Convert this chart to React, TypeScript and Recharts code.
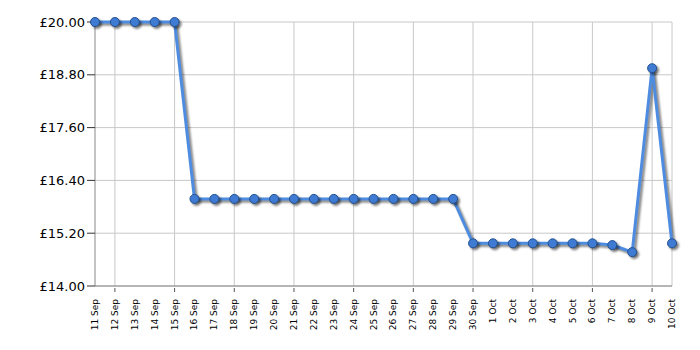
import React from 'react';
import { LineChart, Line, XAxis, YAxis, CartesianGrid } from 'recharts';

const dates = [
  '11 Sep', '12 Sep', '13 Sep', '14 Sep', '15 Sep', '16 Sep', '17 Sep', '18 Sep', '19 Sep', '20 Sep',
  '21 Sep', '22 Sep', '23 Sep', '24 Sep', '25 Sep', '26 Sep', '27 Sep', '28 Sep', '29 Sep', '30 Sep',
  '1 Oct', '2 Oct', '3 Oct', '4 Oct', '5 Oct', '6 Oct', '7 Oct', '8 Oct', '9 Oct', '10 Oct',
];

const prices = [
  20.0, 20.0, 20.0, 20.0, 20.0, 15.98, 15.98, 15.98, 15.98, 15.98,
  15.98, 15.98, 15.98, 15.98, 15.98, 15.98, 15.98, 15.98, 15.98, 14.97,
  14.97, 14.97, 14.97, 14.97, 14.97, 14.97, 14.93, 14.77, 18.95, 14.97,
];

const priceTicks = [14, 15.2, 16.4, 17.6, 18.8, 20];

const data = dates.map((d, i) => ({ date: d, price: prices[i] }));

const DateTick = (props: any) => {
  const { x, y, payload, index } = props;
  return (
    <g transform={`translate(${x},${y})`}>
      {index % 3 === 1 && <line x1={0} y1={0} x2={0} y2={4} stroke="#555" />}
      <text
        transform="rotate(-90)"
        x={-11}
        y={3}
        textAnchor="end"
        fontSize={9}
        fontFamily="DejaVu Sans"
        fill="#000"
      >
        {payload.value}
      </text>
    </g>
  );
};

const PriceDot = (props: any) => {
  const { cx, cy } = props;
  return <circle cx={cx} cy={cy} r={4.5} fill="#3f7bd3" stroke="#23508f" strokeWidth={1} />;
};

export default function App() {
  return (
    <div style={{ margin: '-8px 0 0 -8px' }}>
      <style>{`.recharts-line-curve, .recharts-line-dots { filter: drop-shadow(2px 2px 1px rgba(0,0,0,0.5)); }`}</style>
      <LineChart
        width={700}
        height={350}
        data={data}
        margin={{ top: 22, right: 28, bottom: 14, left: 0 }}
      >
        <CartesianGrid
          stroke="#c8c8c8"
          verticalCoordinatesGenerator={({ offset }: any) => {
            const step = offset.width / (dates.length - 1);
            const xs: number[] = [];
            dates.forEach((_, i) => {
              if (i % 3 === 1 || i === dates.length - 1) xs.push(offset.left + i * step);
            });
            return xs;
          }}
        />
        <XAxis
          dataKey="date"
          interval={0}
          height={50}
          stroke="#888"
          tickLine={false}
          tickSize={0}
          tick={<DateTick />}
        />
        <YAxis
          width={95}
          domain={[14, 20]}
          ticks={priceTicks}
          stroke="#888"
          tickSize={8}
          tickMargin={2}
          tick={{ fill: '#000', fontSize: 13, fontFamily: 'DejaVu Sans' }}
          tickLine={{ stroke: '#333' }}
          tickFormatter={(v: number) => `£${v.toFixed(2)}`}
        />
        <Line
          type="linear"
          dataKey="price"
          stroke="#4d8ce0"
          strokeWidth={3}
          dot={<PriceDot />}
          activeDot={false}
          isAnimationActive={false}
        />
      </LineChart>
    </div>
  );
}
